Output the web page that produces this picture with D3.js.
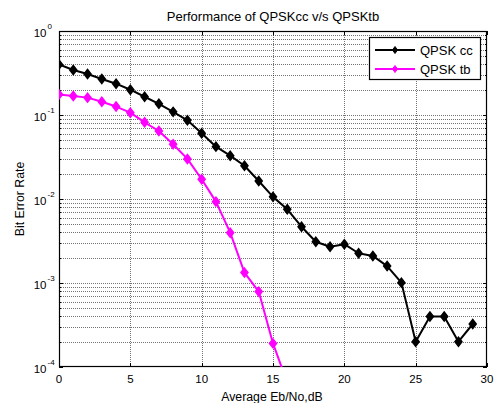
<!DOCTYPE html>
<html>
<head>
<meta charset="utf-8">
<script src="https://cdn.jsdelivr.net/npm/d3@7"></script>
<style>
  body { margin: 0; background: #fff; }
  svg text { font-family: "Liberation Sans", Arial, sans-serif; fill: #000; }
</style>
</head>
<body>
<div id="chart"></div>
<script>
// ============================================================================
// Data
// ============================================================================

const snrCC = d3.range(0, 30)
const berCC = [
  0.40, 0.343, 0.308, 0.268, 0.236, 0.20, 0.165, 0.136, 0.109, 0.0865,
  0.0605, 0.042, 0.0328, 0.0249, 0.0164, 0.0106, 0.00754, 0.00468, 0.0031, 0.0027,
  0.0029, 0.00226, 0.0021, 0.00159, 0.00101, 0.0002, 0.0004, 0.0004, 0.0002, 0.000325
]

const snrTB = d3.range(0, 17)
const berTB = [
  0.176, 0.168, 0.161, 0.144, 0.126, 0.1066, 0.0818, 0.0645, 0.0448, 0.030,
  0.0172, 0.0093, 0.00397, 0.00133, 0.00079, 0.000191, 0.000065
]

const xTicks = [0, 5, 10, 15, 20, 25, 30]
const yExponents = [0, -1, -2, -3, -4]

const seriesNames = ['QPSK cc', 'QPSK tb']
const seriesColors = ['#000000', '#ff00ff']

// ============================================================================
// Layout
// ============================================================================

const width = 495
const height = 403
const plot = { left: 59, top: 31, right: 487, bottom: 367 }

const svg = d3.select('#chart').append('svg')
  .attr('width', width)
  .attr('height', height)
  .style('font-size', '11px')

const x = d3.scaleLinear().domain([0, 30]).range([plot.left, plot.right])
const y = d3.scaleLog().domain([1e-4, 1]).range([plot.bottom, plot.top])

// ----------------------------------------------------------------------------
// Grid (major + minor, MATLAB style dotted)
// ----------------------------------------------------------------------------

const minorY = []
for (let e = -4; e < 0; e++)
  for (let m = 2; m <= 9; m++)
    minorY.push(m * Math.pow(10, e))

const grid = svg.append('g')
  .attr('stroke', '#000')
  .attr('stroke-width', 1)
  .attr('stroke-dasharray', '1,1')
  .attr('stroke-opacity', 0.55)

grid.selectAll('line.gx')
  .data(xTicks.slice(1, -1))
  .join('line')
  .attr('x1', d => Math.round(x(d)) + 0.5)
  .attr('x2', d => Math.round(x(d)) + 0.5)
  .attr('y1', plot.top)
  .attr('y2', plot.bottom)

grid.selectAll('line.gy')
  .data(minorY.concat(yExponents.slice(1, -1).map(e => Math.pow(10, e))))
  .join('line')
  .attr('x1', plot.left)
  .attr('x2', plot.right)
  .attr('y1', d => Math.round(y(d)) + 0.5)
  .attr('y2', d => Math.round(y(d)) + 0.5)

// ----------------------------------------------------------------------------
// Ticks (inward) and frame
// ----------------------------------------------------------------------------

const ticks = svg.append('g').attr('stroke', '#000').attr('stroke-width', 1)

for (let t of xTicks)
{
  let px = Math.round(x(t)) + 0.5
  ticks.append('line').attr('x1', px).attr('x2', px)
    .attr('y1', plot.bottom).attr('y2', plot.bottom - 4)
  ticks.append('line').attr('x1', px).attr('x2', px)
    .attr('y1', plot.top).attr('y2', plot.top + 4)
}

for (let e of yExponents)
{
  let py = Math.round(y(Math.pow(10, e))) + 0.5
  ticks.append('line').attr('x1', plot.left).attr('x2', plot.left + 4)
    .attr('y1', py).attr('y2', py)
  ticks.append('line').attr('x1', plot.right).attr('x2', plot.right - 4)
    .attr('y1', py).attr('y2', py)
}
for (let v of minorY)
{
  let py = Math.round(y(v)) + 0.5
  ticks.append('line').attr('x1', plot.left).attr('x2', plot.left + 2)
    .attr('y1', py).attr('y2', py)
  ticks.append('line').attr('x1', plot.right).attr('x2', plot.right - 2)
    .attr('y1', py).attr('y2', py)
}

svg.append('rect')
  .attr('x', plot.left + 0.5)
  .attr('y', plot.top + 0.5)
  .attr('width', plot.right - plot.left - 1)
  .attr('height', plot.bottom - plot.top - 1)
  .attr('fill', 'none')
  .attr('stroke', '#000')
  .attr('stroke-width', 1.2)

// ----------------------------------------------------------------------------
// Tick labels
// ----------------------------------------------------------------------------

svg.selectAll('text.xtick')
  .data(xTicks)
  .join('text')
  .attr('class', 'xtick')
  .attr('x', d => x(d))
  .attr('y', plot.bottom + 16)
  .attr('text-anchor', 'middle')
  .style('font-size', '11.5px')
  .text(d => d)

for (let e of yExponents)
{
  let py = y(Math.pow(10, e))
  svg.append('text')
    .attr('x', 46.5)
    .attr('y', py + 6)
    .attr('text-anchor', 'end')
    .style('font-size', '11.5px')
    .text('10')
  svg.append('text')
    .attr('x', 47.5)
    .attr('y', py - 2)
    .style('font-size', '8px')
    .text(e)
}

// ----------------------------------------------------------------------------
// Titles
// ----------------------------------------------------------------------------

svg.append('text')
  .attr('x', 273)
  .attr('y', 21)
  .attr('text-anchor', 'middle')
  .style('font-size', '13px')
  .text('Performance of QPSKcc v/s QPSKtb')

svg.append('text')
  .attr('x', 272)
  .attr('y', 401)
  .attr('text-anchor', 'middle')
  .style('font-size', '12.3px')
  .text('Average Eb/No,dB')

svg.append('text')
  .attr('transform', 'translate(24,' + (plot.top + plot.bottom) / 2 + ') rotate(-90)')
  .attr('text-anchor', 'middle')
  .style('font-size', '12.3px')
  .text('Bit Error Rate')

// ----------------------------------------------------------------------------
// Series
// ----------------------------------------------------------------------------

svg.append('clipPath').attr('id', 'clip')
  .append('rect')
  .attr('x', plot.left).attr('y', plot.top)
  .attr('width', plot.right - plot.left)
  .attr('height', plot.bottom - plot.top)

const diamond = 'M0,-4.5L3.5,0L0,4.5L-3.5,0Z'

const series = [
  { name: seriesNames[0], color: seriesColors[0], xs: snrCC, ys: berCC },
  { name: seriesNames[1], color: seriesColors[1], xs: snrTB, ys: berTB },
]

const lineGen = d3.line().x(d => x(d[0])).y(d => y(d[1]))

const plotArea = svg.append('g').attr('clip-path', 'url(#clip)')

for (let s of series)
{
  let pts = s.xs.map((v, i) => [v, s.ys[i]])
  plotArea.append('path')
    .attr('d', lineGen(pts))
    .attr('fill', 'none')
    .attr('stroke', s.color)
    .attr('stroke-width', 2)
    .attr('stroke-linejoin', 'round')

  plotArea.selectAll(null)
    .data(pts)
    .join('path')
    .attr('d', diamond)
    .attr('transform', d => 'translate(' + x(d[0]) + ',' + y(d[1]) + ')')
    .attr('fill', s.color)
    .attr('stroke', s.color)
    .attr('stroke-width', 1.5)
}

// ----------------------------------------------------------------------------
// Legend
// ----------------------------------------------------------------------------

const legend = svg.append('g')

legend.append('rect')
  .attr('x', 369.5).attr('y', 37.5)
  .attr('width', 111).attr('height', 42)
  .attr('fill', '#fff')
  .attr('stroke', '#000')
  .attr('stroke-width', 1.2)

series.forEach((s, i) =>
{
  let ly = 50 + i * 19
  legend.append('line')
    .attr('x1', 375).attr('x2', 415)
    .attr('y1', ly).attr('y2', ly)
    .attr('stroke', s.color)
    .attr('stroke-width', 2)
  legend.append('path')
    .attr('d', 'M0,-3.5L2.5,0L0,3.5L-2.5,0Z')
    .attr('transform', 'translate(395,' + ly + ')')
    .attr('fill', s.color)
    .attr('stroke', s.color)
  legend.append('text')
    .attr('x', 420)
    .attr('y', ly + 4.5)
    .style('font-size', '13px')
    .text(s.name)
})
</script>
</body>
</html>
